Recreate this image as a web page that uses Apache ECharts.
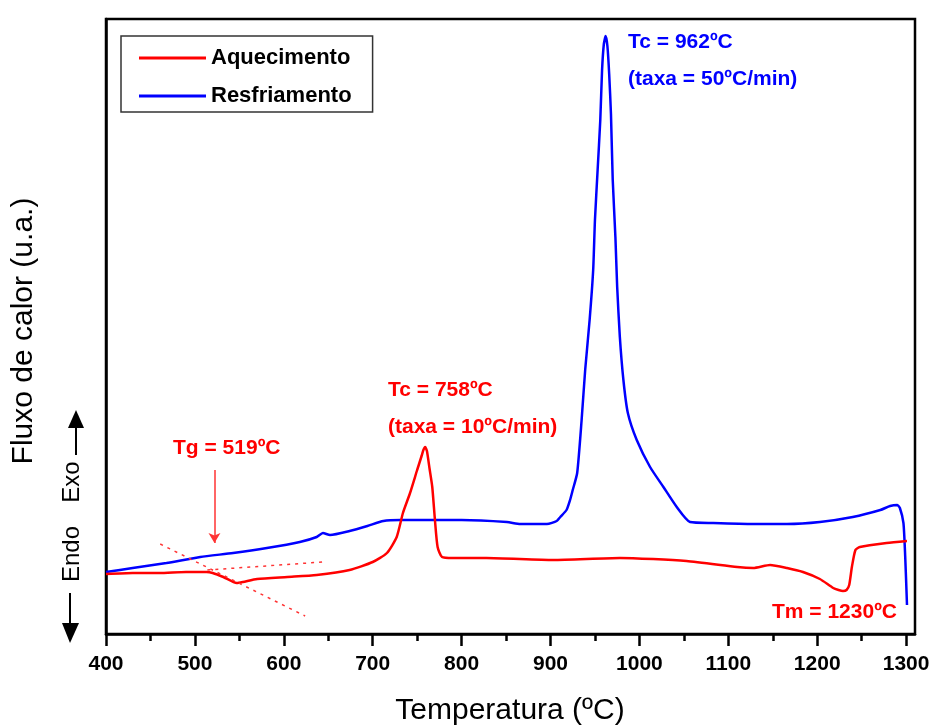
<!DOCTYPE html>
<html><head><meta charset="utf-8">
<script src="https://cdn.jsdelivr.net/npm/echarts@6/dist/echarts.min.js"></script>
<style>html,body{margin:0;padding:0;background:#fff}#c{width:934px;height:726px}</style>
</head><body><div id="c"></div>
<script>
// Aquecimento (heating, 10 C/min)
const heatT = [400,430,460,490,513,520,532,547,554,570,604,637,674,700,716,727,734,742,750,755,757,759,761,764,767,770,773,778,790,828,903,978,1053,1110,1128,1147,1166,1184,1203,1218,1224,1229,1233,1236,1239,1243,1248,1278,1301];
const heatU = [60,61,61,62,62,61,57,51,52,55,57,59,64,72,81,97,121,141,164,178,184,187,183,165,147,114,87,77,76,76,74,76,73,67,66,69,66,62,55,46,44,43,44,49,67,84,87,91,93];
// Resfriamento (cooling, 50 C/min)
const coolT = [400,430,468,506,543,581,618,637,644,652,674,694,712,731,764,800,851,866,896,907,911,918,922,925,930,935,939,944,948,950,953,956,958,960,962,964,966,968,970,973,975,978,982,987,997,1012,1027,1042,1057,1083,1128,1166,1203,1240,1271,1282,1290,1293,1297,1299,1301];
const coolU = [62,66,71,77,81,86,92,97,101,99,103,108,113,114,114,114,112,110,110,113,117,124,134,144,161,214,264,314,364,414,464,514,564,590,598,588,560,520,454,397,347,297,254,221,194,167,147,127,112,111,110,110,112,117,124,128,129,126,111,77,29];
const xTicks = [400,500,600,700,800,900,1000,1100,1200,1300];
const xMinorTicks = [450,550,650,750,850,950,1050,1150,1250];
const tangentSteep = [[461,90],[624,18]];
const tangentFlat = [[514,64],[644,72]];
const tgArrow = [[522,164],[522,91]];

const zip = (a,b)=>a.map((v,i)=>[v,b[i]]);
const F = 'Liberation Sans';
const boldFont = 'bold 21px "Liberation Sans"';
const chart = echarts.init(document.getElementById('c'), null, {renderer:'canvas'});
const tickStyle = {color:'#000', width:2.5};
const option = {
  animation:false,
  backgroundColor:'#fff',
  grid:{left:106,right:19,top:19,bottom:92,show:true,borderColor:'#000',borderWidth:2.5,backgroundColor:'transparent'},
  xAxis:[{
    type:'value',min:400,max:1310,position:'bottom',
    axisLine:{show:true,lineStyle:tickStyle},
    axisTick:{show:true,customValues:xTicks,length:12,lineStyle:tickStyle},
    axisLabel:{show:true,customValues:xTicks,margin:20,fontFamily:F,fontWeight:'bold',fontSize:21,color:'#000',formatter:v=>String(v)},
    splitLine:{show:false}
  },{
    type:'value',min:400,max:1310,position:'bottom',
    axisLine:{show:false},
    axisTick:{show:true,customValues:xMinorTicks,length:7,lineStyle:tickStyle},
    axisLabel:{show:false},
    splitLine:{show:false}
  }],
  yAxis:{type:'value',min:0,max:615,
    axisLine:{show:true,lineStyle:tickStyle},
    axisTick:{show:false},axisLabel:{show:false},splitLine:{show:false}},
  legend:{left:121,top:36,orient:'vertical',icon:'rect',itemWidth:67,itemHeight:3,itemGap:16,
    padding:[11,21,5,18],borderColor:'#333',borderWidth:1.5,
    textStyle:{fontFamily:F,fontWeight:'bold',fontSize:22,color:'#000',lineHeight:22},
    data:['Aquecimento','Resfriamento']},
  series:[{
    name:'Aquecimento',type:'line',data:zip(heatT,heatU),showSymbol:false,symbol:'none',smooth:0.2,
    lineStyle:{color:'#ff0000',width:2.5},itemStyle:{color:'#ff0000'},z:3,
    markLine:{silent:true,symbol:'none',label:{show:false},animation:false,
      lineStyle:{color:'#ff3333',width:1.5,type:[3,5]},
      data:[
        [{coord:tangentSteep[0]},{coord:tangentSteep[1]}],
        [{coord:tangentFlat[0]},{coord:tangentFlat[1]}],
        [{coord:tgArrow[0],symbol:'none',lineStyle:{type:'solid',color:'#ff3333',width:1.5}},
         {coord:tgArrow[1],symbol:'arrow',symbolSize:[9,10]}]
      ]}
  },{
    name:'Resfriamento',type:'line',data:zip(coolT,coolU),showSymbol:false,symbol:'none',smooth:0.2,
    lineStyle:{color:'#0000ff',width:2.5},itemStyle:{color:'#0000ff'},z:2
  }],
  graphic:[
    {type:'text',x:24,y:331,rotation:Math.PI/2,style:{text:'Fluxo de calor (u.a.)',font:'30px "Liberation Sans"',fill:'#000',textAlign:'center',textVerticalAlign:'middle'}},
    {type:'text',x:510,y:711,style:{text:'Temperatura (ºC)',font:'30px "Liberation Sans"',fill:'#000',textAlign:'center',textVerticalAlign:'middle'}},
    {type:'text',x:72,y:482,rotation:Math.PI/2,style:{text:'Exo',font:'24px "Liberation Sans"',fill:'#000',textAlign:'center',textVerticalAlign:'middle'}},
    {type:'text',x:72,y:554,rotation:Math.PI/2,style:{text:'Endo',font:'24px "Liberation Sans"',fill:'#000',textAlign:'center',textVerticalAlign:'middle'}},
    {type:'line',shape:{x1:76,y1:455,x2:76,y2:425},style:{stroke:'#000',lineWidth:2}},
    {type:'polygon',shape:{points:[[76,410],[68,428],[84,428]]},style:{fill:'#000'}},
    {type:'line',shape:{x1:70,y1:593,x2:70,y2:625},style:{stroke:'#000',lineWidth:2}},
    {type:'polygon',shape:{points:[[70,643],[62,623],[79,623]]},style:{fill:'#000'}},
    {type:'text',x:173,y:448,style:{text:'Tg = 519ºC',font:boldFont,fill:'#ff0000',textAlign:'left',textVerticalAlign:'middle'}},
    {type:'text',x:388,y:390,style:{text:'Tc = 758ºC',font:boldFont,fill:'#ff0000',textAlign:'left',textVerticalAlign:'middle'}},
    {type:'text',x:388,y:427,style:{text:'(taxa = 10ºC/min)',font:boldFont,fill:'#ff0000',textAlign:'left',textVerticalAlign:'middle'}},
    {type:'text',x:628,y:42,style:{text:'Tc = 962ºC',font:boldFont,fill:'#0000ff',textAlign:'left',textVerticalAlign:'middle'}},
    {type:'text',x:628,y:79,style:{text:'(taxa = 50ºC/min)',font:boldFont,fill:'#0000ff',textAlign:'left',textVerticalAlign:'middle'}},
    {type:'text',x:772,y:612,style:{text:'Tm = 1230ºC',font:boldFont,fill:'#ff0000',textAlign:'left',textVerticalAlign:'middle'}}
  ]
};
chart.setOption(option);
</script></body></html>
